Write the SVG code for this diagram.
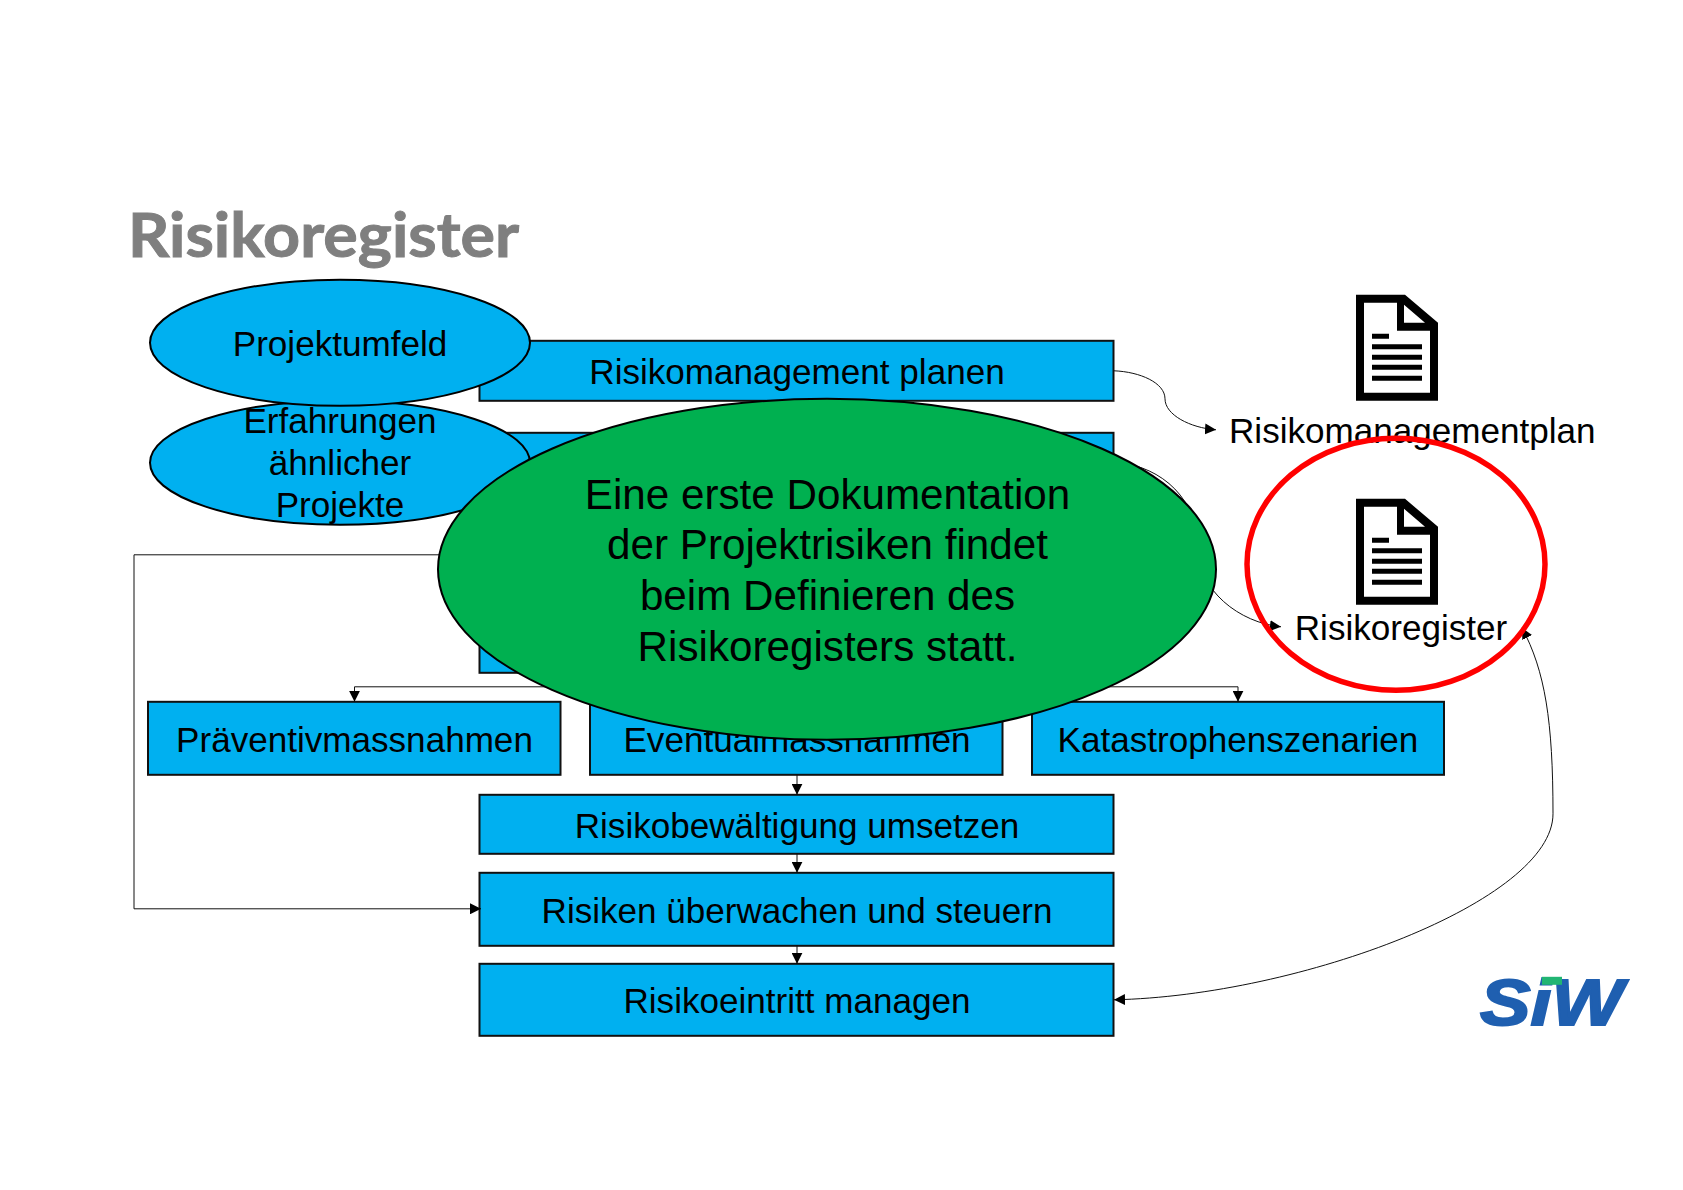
<svg xmlns="http://www.w3.org/2000/svg" xmlns:xlink="http://www.w3.org/1999/xlink" width="1683" height="1190" viewBox="0 0 1683 1190">
<style>
text{font-family:"Liberation Sans",Arial,sans-serif;fill:#000;font-size:35.1px}
.c{text-anchor:middle}
.box{fill:#00b0f0;stroke:#111;stroke-width:2}
.oval{fill:#00b0f0;stroke:#000;stroke-width:2}
.ln{fill:none;stroke:#111;stroke-width:1}
.g{font-size:42.2px}
</style>
<defs>
<marker id="ah" markerUnits="userSpaceOnUse" markerWidth="11" markerHeight="11" refX="11" refY="5.5" orient="auto"><path d="M0 0L11 5.5L0 11Z" fill="#000"/></marker>
<marker id="ahs" markerUnits="userSpaceOnUse" markerWidth="11" markerHeight="11" refX="11" refY="5.5" orient="auto-start-reverse"><path d="M0 0L11 5.5L0 11Z" fill="#000"/></marker>
<g id="doc">
<path fill-rule="evenodd" d="M1356 294H1405L1438 322V400H1356ZM1364 302V392H1430V330H1397V302ZM1404 304V322H1425Z" fill="#000"/>
<path d="M1372 333h17v5h-17zM1372 343.500h50v5h-50zM1372 354h50v5h-50zM1372 364h50v5h-50zM1372 375h50v5h-50z" fill="#000"/>
</g>
</defs>
<rect width="1683" height="1190" fill="#fff"/>
<g transform="translate(0,0.8)">
<text id="title" x="128" y="256.500" style="font-family:Lato,'Liberation Sans',sans-serif;font-weight:700;font-size:62px;fill:#7f7f7f;stroke:#7f7f7f;stroke-width:1" textLength="391" lengthAdjust="spacingAndGlyphs">Risikoregister</text>
<g id="node-planen"><rect class="box" x="479.500" y="340" width="634" height="60"/><text class="c" x="797" y="383">Risikomanagement planen</text></g>
<g id="node-identifizieren"><rect class="box" x="479.500" y="432" width="634" height="70"/></g>
<g id="node-bewerten"><rect class="box" x="479.500" y="610" width="634" height="62"/></g>
<g id="node-praeventiv"><rect class="box" x="148" y="701" width="412.500" height="73"/><text class="c" x="354.500" y="751">Präventivmassnahmen</text></g>
<g id="node-eventual"><rect class="box" x="590" y="701" width="412.500" height="73"/><text class="c" x="797" y="751">Eventualmassnahmen</text></g>
<g id="node-katastrophen"><rect class="box" x="1032" y="701" width="412" height="73"/><text class="c" x="1238" y="751">Katastrophenszenarien</text></g>
<g id="node-umsetzen"><rect class="box" x="479.500" y="794" width="634" height="59"/><text class="c" x="797" y="837">Risikobewältigung umsetzen</text></g>
<g id="node-ueberwachen"><rect class="box" x="479.500" y="872" width="634" height="73"/><text class="c" x="797" y="922">Risiken überwachen und steuern</text></g>
<g id="node-eintritt"><rect class="box" x="479.500" y="963" width="634" height="72"/><text class="c" x="797" y="1012">Risikoeintritt managen</text></g>
<g id="connectors">
<path class="ln" marker-end="url(#ah)" d="M1114 370C1140 371 1165 382 1165 398C1165 414 1190 427 1216 429"/>
<path class="ln" marker-end="url(#ah)" d="M1114 462C1150 462 1197 490 1197 544C1197 590 1240 622 1281 626"/>
<path class="ln" marker-start="url(#ahs)" marker-end="url(#ah)" d="M1114 999C1300 995 1553 900 1553 813C1553 720 1545 670 1522 627"/>
<path class="ln" marker-end="url(#ah)" d="M480 554H134V908H481"/>
<path class="ln" d="M354.500 686H1238"/>
<path class="ln" marker-end="url(#ah)" d="M354.500 686V701"/>
<path class="ln" marker-end="url(#ah)" d="M1238 686V701"/>
<path class="ln" marker-end="url(#ah)" d="M797 774V794"/>
<path class="ln" marker-end="url(#ah)" d="M797 853V872"/>
<path class="ln" marker-end="url(#ah)" d="M797 945V963"/>
</g>
<g id="node-erfahrungen"><ellipse class="oval" cx="340" cy="462" rx="190" ry="62"/><text class="c" x="340" y="432">Erfahrungen</text><text class="c" x="340" y="474">ähnlicher</text><text class="c" x="340" y="516.500">Projekte</text></g>
<g id="node-projektumfeld"><ellipse class="oval" cx="340" cy="342" rx="190" ry="63"/><text class="c" x="340" y="355">Projektumfeld</text></g>
<g id="node-plan"><use href="#doc" xlink:href="#doc"/><text x="1229" y="442">Risikomanagementplan</text></g>
<g id="node-register"><use href="#doc" xlink:href="#doc" y="204"/><text class="c" x="1401" y="639">Risikoregister</text></g>
<g id="node-note"><ellipse cx="827" cy="568.500" rx="389" ry="170.500" fill="#00b050" stroke="#000" stroke-width="2"/>
<text class="c g" x="827.500" y="508">Eine erste Dokumentation</text><text class="c g" x="827.500" y="558.600">der Projektrisiken findet</text><text class="c g" x="827.500" y="609.300">beim Definieren des</text><text class="c g" x="827.500" y="660">Risikoregisters statt.</text></g>
<ellipse id="highlight" cx="1396" cy="563.500" rx="149" ry="126" fill="none" stroke="#f00" stroke-width="5.500"/>
<g id="logo"><text x="1480" y="1024" style="font-weight:700;font-style:italic;font-size:65px;fill:#1f5fb0;stroke:#1f5fb0;stroke-width:2" textLength="143" lengthAdjust="spacingAndGlyphs">SiW</text><rect x="1542" y="976" width="20" height="8" fill="#21b573"/></g>
</g>
</svg>
